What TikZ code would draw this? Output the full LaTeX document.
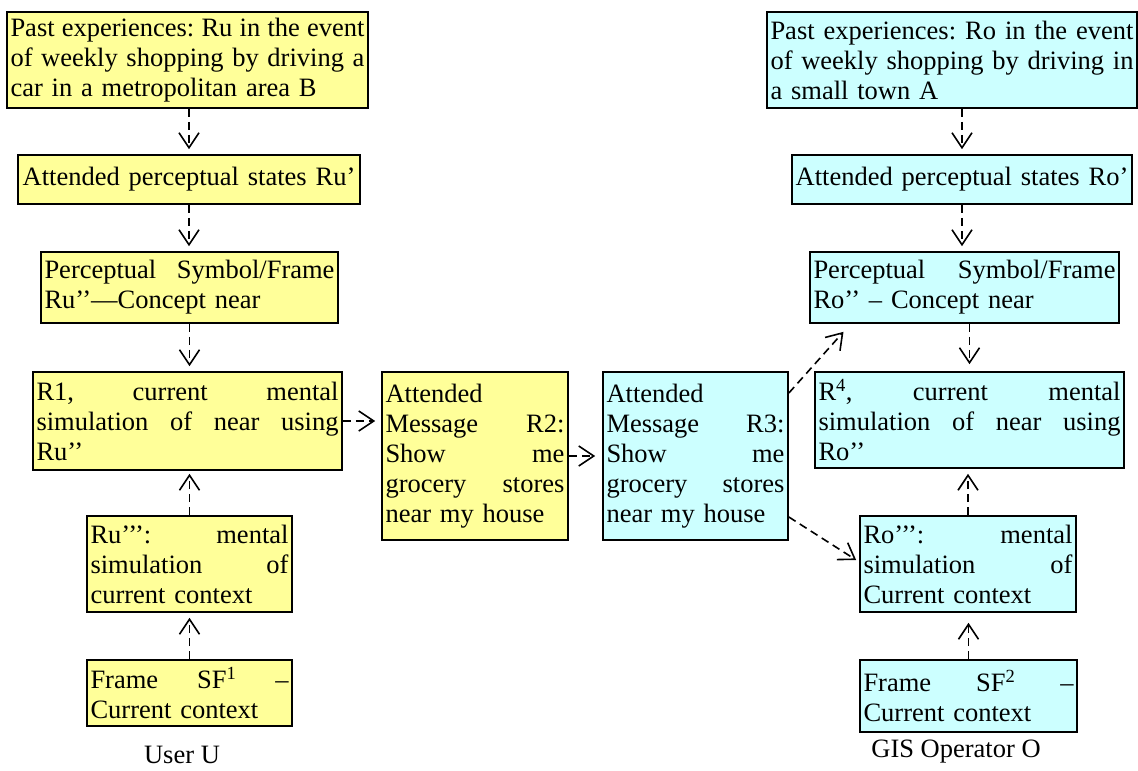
\documentclass[tikz,border=0pt]{standalone}
\usepackage{fontspec}
\setmainfont{Liberation Serif}
\usetikzlibrary{arrows.meta}
\definecolor{ufill}{HTML}{FFFF99}
\definecolor{ofill}{HTML}{CCFFFF}
\tikzset{
  box/.style={draw, line width=1.7pt, inner xsep=3.5pt, inner ysep=0pt, align=left,
    font=\fontsize{26.5}{30}\selectfont},
  ubox/.style={box, fill=ufill},
  obox/.style={box, fill=ofill},
  lbl/.style={font=\fontsize{26.5}{30}\selectfont, anchor=base, inner sep=0pt},
  arr/.style={line width=1.6pt, dash pattern=on 8pt off 5pt,
    -{Straight Barb[length=15pt,width=20pt]}}
}
\begin{document}
\begin{tikzpicture}[x=1pt,y=1pt]
\useasboundingbox (0,0) rectangle (1138,-771);
% left column
\node[ubox, minimum width=361pt, minimum height=96pt, text width=354pt] (l1) at (187.5,-60)
  {Past\hfill experiences:\hfill Ru\hfill in\hfill the\hfill event\\
   of\hfill weekly\hfill shopping\hfill by\hfill driving\hfill a\\
   car in a metropolitan area B};
\node[ubox, align=center, minimum width=342pt, minimum height=49pt, text width=335pt] (l2) at (189,-179.5)
  {Attended perceptual states Ru’};
\node[ubox, minimum width=297pt, minimum height=71pt, text width=290pt] (l3) at (189.5,-287.5)
  {Perceptual\hfill Symbol/Frame\\ Ru’’—Concept near};
\node[ubox, minimum width=309pt, minimum height=98pt, text width=302pt] (l4) at (187.5,-421)
  {R1,\hfill current\hfill mental\\
   simulation\hfill of\hfill near\hfill using\\
   Ru’’};
\node[ubox, minimum width=205pt, minimum height=96pt, text width=198pt] (l5) at (189.5,-564)
  {Ru’’’:\hfill mental\\ simulation\hfill of\\ current context};
\node[ubox, minimum width=205pt, minimum height=66pt, text width=198pt] (l6) at (189.5,-693)
  {Frame\hfill SF\textsuperscript{1}\hfill –\\ Current context};
% middle
\node[ubox, minimum width=186pt, minimum height=168pt, text width=179pt] (m2) at (475,-456)
  {Attended\\ Message\hfill R2:\\ Show\hfill me\\ grocery\hfill stores\\ near my house};
\node[obox, minimum width=185pt, minimum height=168pt, text width=178pt] (m3) at (695.5,-456)
  {Attended\\ Message\hfill R3:\\ Show\hfill me\\ grocery\hfill stores\\ near my house};
% right column
\node[obox, minimum width=370pt, minimum height=96pt, text width=363pt] (r1) at (952,-60)
  {Past\hfill experiences:\hfill Ro\hfill in\hfill the\hfill event\\
   of\hfill weekly\hfill shopping\hfill by\hfill driving\hfill in\\
   a small town A};
\node[obox, align=center, minimum width=340pt, minimum height=49pt, text width=333pt] (r2) at (962,-179.5)
  {Attended perceptual states Ro’};
\node[obox, minimum width=309pt, minimum height=71pt, text width=302pt] (r3) at (964.5,-287.5)
  {Perceptual\hfill Symbol/Frame\\ Ro’’ – Concept near};
\node[obox, minimum width=309pt, minimum height=96pt, text width=302pt] (r4) at (969.5,-420)
  {R\textsuperscript{4},\hfill current\hfill mental\\
   simulation\hfill of\hfill near\hfill using\\
   Ro’’};
\node[obox, minimum width=216pt, minimum height=96pt, text width=209pt] (r5) at (968,-564)
  {Ro’’’:\hfill mental\\ simulation\hfill of\\ Current context};
\node[obox, minimum width=217pt, minimum height=72pt, text width=210pt] (r6) at (968.5,-696)
  {Frame\hfill SF\textsuperscript{2}\hfill –\\ Current context};
% labels
\node[lbl] (uu) at (182,-763) {User U};
\node[lbl] (go) at (956,-757) {GIS Operator O};
% arrows left
\draw[arr, shorten >=5pt] (l1.south -| l2.north) -- (l2.north);
\draw[arr, shorten >=5pt] (l2.south) -- (l2.south |- l3.north);
\draw[arr, shorten >=5pt] (l3.south) -- (l3.south |- l4.north);
\draw[arr, shorten >=3pt] (l5.north) -- (l5.north |- l4.south);
\draw[arr, shorten >=5pt] (l6.north) -- (l6.north |- l5.south);
% arrows middle
\draw[arr, shorten >=6pt] (l4.east) -- (l4.east -| m2.west);
\draw[arr, shorten >=7pt] (m2.east) -- (m3.west);
\draw[arr] ([yshift=63pt]m3.east) -- ([xshift=-121pt,yshift=-8pt]r3.south);
\draw[arr] ([yshift=-61pt]m3.east) -- ([xshift=-3pt,yshift=4pt]r5.west);
% arrows right
\draw[arr, shorten >=5pt] (r1.south -| r2.north) -- (r2.north);
\draw[arr, shorten >=5pt] (r2.south) -- (r2.south |- r3.north);
\draw[arr, shorten >=7pt] (r3.south -| r4.north) -- (r4.north);
\draw[arr, shorten >=5pt] (r5.north) -- (r5.north |- r4.south);
\draw[arr, shorten >=10pt] (r6.north) -- (r6.north |- r5.south);
\end{tikzpicture}
\end{document}
